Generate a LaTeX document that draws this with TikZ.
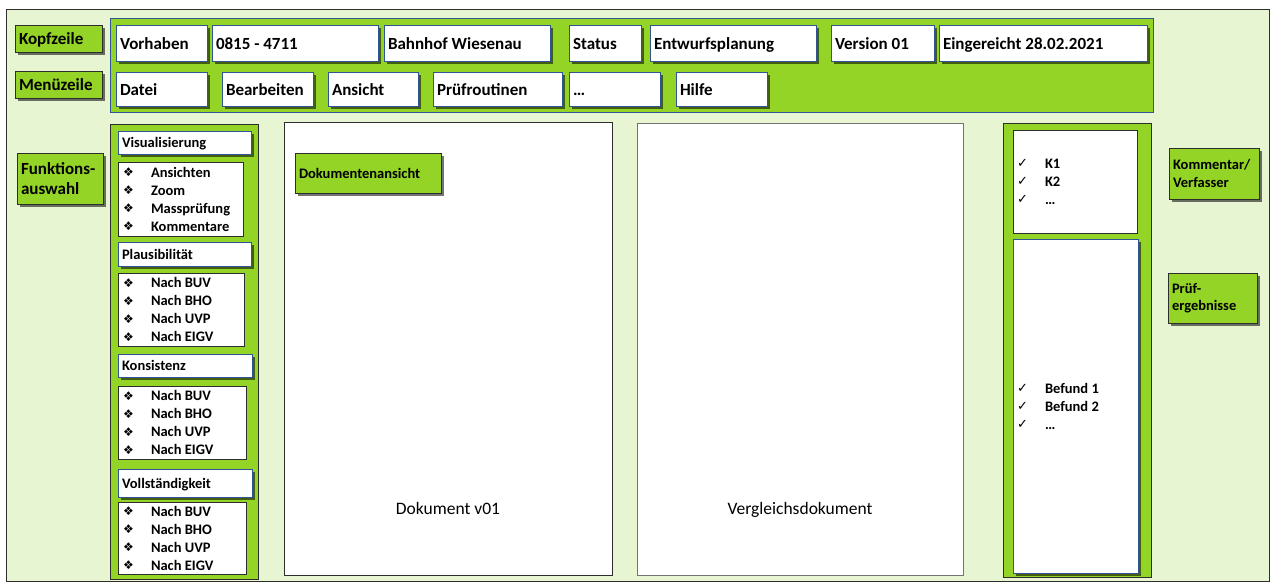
\documentclass[tikz,border=0pt]{standalone}
\usepackage{fontspec}
\setmainfont{Carlito}
\newfontfamily\djv{DejaVu Sans}
\usetikzlibrary{shadows}
\definecolor{bgg}{RGB}{231,245,211}
\definecolor{lgr}{RGB}{148,212,38}
\definecolor{bbl}{RGB}{47,85,151}
\definecolor{dkg}{RGB}{45,45,45}
\newcommand\bx[7]{%
  \pgfmathsetmacro\bxw{#4-#2}\pgfmathsetmacro\bxh{#5-#3}\pgfmathsetmacro\bxt{#4-#2-8}%
  \node[#6, minimum width=\bxw pt, minimum height=\bxh pt, text width=\bxt pt] (#1) at ({(#2+#4)/2},{(#3+#5)/2}) {#7};}
\newcommand\lstitem[1]{\mbox{\makebox[29pt][l]{\hspace{1pt}\raisebox{0.5pt}{\djv\fontsize{12}{12}\selectfont ❖}}#1}}
\newcommand\ckitem[1]{\mbox{\makebox[28pt][l]{\raisebox{1pt}{\djv\fontsize{13}{13}\selectfont ✓}}#1}}
\begin{document}
\begin{tikzpicture}[x=1pt,y=-1pt,
  shd/.style={drop shadow={shadow xshift=2.5pt,shadow yshift=-2.5pt,opacity=0.55,fill=black}},
  bxbase/.style={rectangle, inner xsep=4pt, inner ysep=0pt, align=flush left, line width=0.8pt},
  hbox/.style={bxbase, draw=bbl, fill=white, shd, font=\fontsize{17}{20}\selectfont\bfseries, text height=14pt, text depth=2pt},
  sbox/.style={bxbase, draw=bbl, fill=white, shd, font=\fontsize{14.5}{18}\selectfont\bfseries, text height=12pt, text depth=2pt},
  lbox/.style={bxbase, draw=dkg, fill=white, font=\fontsize{14.5}{18}\selectfont\bfseries},
  lbl/.style={bxbase, draw=dkg, fill=lgr, shd, font=\fontsize{17}{20}\selectfont\bfseries},
  slbl/.style={bxbase, draw=dkg, fill=lgr, shd, font=\fontsize{14.5}{17.5}\selectfont\bfseries},
  oneline/.style={text height=14pt, text depth=2pt},
  docbox/.style={bxbase, draw=dkg, fill=white},
  doctext/.style={font=\fontsize{17.5}{20}\selectfont, inner sep=0pt, anchor=base}]
\useasboundingbox (0,0) rectangle (1273,582);
% background
\bx{bg}{6}{9}{1269}{581}{bxbase,draw=dkg,fill=bgg}{}
% top panel
\bx{top}{110}{18}{1153}{112}{bxbase,draw=bbl,fill=lgr}{}
\bx{vh}{116}{25}{207}{61}{hbox}{Vorhaben}
\bx{nr}{212}{25}{378}{61}{hbox}{0815 - 4711}
\bx{bw}{384}{25}{550}{61}{hbox}{Bahnhof Wiesenau}
\bx{st}{569}{25}{641}{61}{hbox}{Status}
\bx{ep}{650}{25}{816}{61}{hbox}{Entwurfsplanung}
\bx{vs}{831}{25}{934}{61}{hbox}{Version 01}
\bx{eg}{939}{25}{1147}{61}{hbox}{Eingereicht 28.02.2021}
\bx{m1}{116}{72}{207}{106}{hbox}{Datei}
\bx{m2}{222}{72}{313}{106}{hbox}{Bearbeiten}
\bx{m3}{328}{72}{418}{106}{hbox}{Ansicht}
\bx{m4}{433}{72}{562}{106}{hbox}{Prüfroutinen}
\bx{m5}{569}{72}{660}{106}{hbox}{…}
\bx{m6}{676}{72}{767}{106}{hbox}{Hilfe}
% left labels
\bx{kz}{15}{25}{102}{52}{lbl,oneline}{Kopfzeile}
\bx{mz}{15}{71}{102}{98}{lbl,oneline}{Menüzeile}
\bx{fa}{17}{153}{103}{204}{lbl}{Funktions-\\auswahl}
% left column
\bx{lc}{110}{124}{258}{579}{bxbase,draw=dkg,fill=lgr}{}
\bx{h1}{118}{131}{251}{154}{sbox}{Visualisierung}
\bx{l1}{118}{162}{243}{236}{lbox}{\lstitem{Ansichten}\\\lstitem{Zoom}\\\lstitem{Massprüfung}\\\lstitem{Kommentare}}
\bx{h2}{118}{242}{251}{266}{sbox}{Plausibilität}
\bx{l2}{118}{273}{244}{346}{lbox}{\lstitem{Nach BUV}\\\lstitem{Nach BHO}\\\lstitem{Nach UVP}\\\lstitem{Nach EIGV}}
\bx{h3}{118}{354}{252}{377}{sbox}{Konsistenz}
\bx{l3}{118}{386}{246}{459}{lbox}{\lstitem{Nach BUV}\\\lstitem{Nach BHO}\\\lstitem{Nach UVP}\\\lstitem{Nach EIGV}}
\bx{h4}{118}{469}{252}{497}{sbox}{Vollständigkeit}
\bx{l4}{118}{502}{246}{574}{lbox}{\lstitem{Nach BUV}\\\lstitem{Nach BHO}\\\lstitem{Nach UVP}\\\lstitem{Nach EIGV}}
% documents
\bx{d1}{284}{122}{612}{575}{docbox}{}
\bx{d2}{637}{123}{963}{575}{docbox,draw=black!55}{}
\node[doctext] (t1) at (448,514) {Dokument v01};
\node[doctext] (t2) at (800,514) {Vergleichsdokument};
\bx{da}{295}{153}{441}{193}{slbl,text height=12pt,text depth=1.5pt}{Dokumentenansicht}
% right column
\bx{rc}{1003}{123}{1151}{577}{bxbase,draw=dkg,fill=lgr}{}
\bx{kb}{1013}{130}{1137}{233}{lbox}{\ckitem{K1}\\\ckitem{K2}\\\ckitem{…}}
\bx{bb}{1013}{239}{1138}{573}{lbox,draw=bbl,shd}{\ckitem{Befund 1}\\\ckitem{Befund 2}\\\ckitem{…}}
\bx{kv}{1169}{148}{1259}{199}{slbl}{Kommentar/\\Verfasser}
\bx{pe}{1168}{273}{1257}{323}{slbl}{Prüf-\\ergebnisse}
\end{tikzpicture}
\end{document}
